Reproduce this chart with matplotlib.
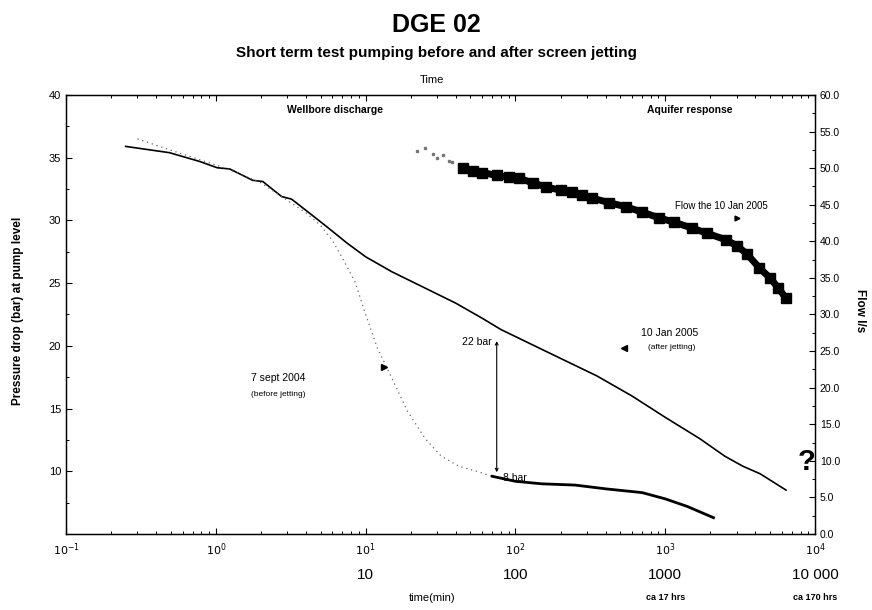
import matplotlib
matplotlib.use("Agg")
import matplotlib.pyplot as plt
from matplotlib.ticker import MultipleLocator, LogLocator, NullFormatter
import matplotlib.transforms as mtransforms

plt.rcParams['font.family'] = ['Liberation Sans', 'DejaVu Sans']

# ---- data ----
# after jetting (10 Jan 2005) : time [min], pressure drop [bar]
after_t = [0.25, 0.49, 0.78, 1.02, 1.24, 1.76, 2.06, 2.75, 3.2, 4.0, 5.5, 7.5, 10, 15, 25, 40, 60, 80, 110, 200, 350, 600, 1000, 1700, 2500, 3300, 4300, 6400]
after_p = [35.9, 35.4, 34.7, 34.2, 34.1, 33.2, 33.1, 31.9, 31.7, 30.8, 29.5, 28.2, 27.1, 25.9, 24.6, 23.4, 22.2, 21.3, 20.5, 19.0, 17.6, 16.0, 14.3, 12.6, 11.2, 10.4, 9.8, 8.5]

# before jetting (7 sept 2004) : sparse dotted part then solid tail
before_t = [0.3, 0.5, 0.8, 1.2, 2.0, 3.0, 4.0, 5.0, 6.0, 7.0, 8.5, 10, 12, 15, 19, 25, 32, 42, 55, 70]
before_p = [36.5, 35.6, 34.8, 34.1, 33.0, 31.6, 30.6, 29.6, 28.4, 27.0, 25.1, 22.5, 19.8, 17.4, 14.8, 12.6, 11.2, 10.4, 10.0, 9.6]
before_tail_t = [70, 100, 150, 250, 400, 700, 1000, 1400, 2100]
before_tail_p = [9.6, 9.2, 9.0, 8.9, 8.6, 8.3, 7.8, 7.2, 6.3]

# flow the 10 Jan 2005 : time [min], flow [l/s]
flow_t = [45, 52, 60, 75, 90, 106, 130, 161, 200, 240, 280, 326, 420, 550, 700, 912, 1150, 1514, 1900, 2550, 3000, 3500, 4233, 5000, 5700, 6400]
flow_q = [50.0, 49.6, 49.4, 49.0, 48.8, 48.6, 48.0, 47.4, 47.0, 46.7, 46.3, 45.9, 45.3, 44.7, 44.0, 43.2, 42.6, 41.8, 41.1, 40.2, 39.4, 38.3, 36.4, 35.0, 33.6, 32.2]
flow_light_t = [22, 25, 28, 30, 33, 36, 38, 42, 45]
flow_light_q = [52.3, 52.8, 52.0, 51.4, 51.8, 51.0, 50.8, 50.4, 50.1]

x_major = [0.1, 1, 10, 100, 1000, 10000]
x_major_labels = [r'$10^{-1}$', r'$10^{0}$', r'$10^{1}$', r'$10^{2}$', r'$10^{3}$', r'$10^{4}$']
x_plain = [10, 100, 1000, 10000]
x_plain_labels = ['10', '100', '1000', '10 000']
x_hrs = [1000, 10000]
x_hrs_labels = ['ca 17 hrs', 'ca 170 hrs']
left_ticks = [10, 15, 20, 25, 30, 35, 40]
right_ticks = [0, 5, 10, 15, 20, 25, 30, 35, 40, 45, 50, 55, 60]

# gap measurement
gap_t = 75
gap_top = 20.6
gap_bottom = 9.7

fig = plt.figure(figsize=(8.72, 6.10), dpi=100)
ax = fig.add_axes([0.0757, 0.1246, 0.859, 0.7197])
ax.set_xscale('log')
ax.set_xlim(0.1, 1e4)
ax.set_ylim(5, 40)

ax.plot(after_t, after_p, color='black', lw=1.2, zorder=3)
ax.plot(before_t, before_p, color='#666666', lw=0.9, ls=(0, (1, 3)), zorder=3)
ax.plot(before_tail_t, before_tail_p, color='black', lw=2.0, zorder=3)
ax.plot([530], [19.85], marker='<', color='black', ms=4, zorder=4)
ax.plot([13.3], [18.3], marker='>', color='black', ms=4, zorder=4)

ax.annotate('', xy=(gap_t, gap_bottom), xytext=(gap_t, gap_top),
            arrowprops=dict(arrowstyle='<->', lw=0.8, color='black', mutation_scale=5))
ax.text(gap_t * 0.93, gap_top - 0.3, '22 bar', ha='right', va='center', fontsize=7.5)
ax.text(gap_t * 1.1, gap_bottom - 0.2, '8 bar', ha='left', va='center', fontsize=7.5)

ax.set_xticks(x_major)
ax.set_xticklabels(x_major_labels, fontsize=8)
ax.xaxis.set_minor_locator(LogLocator(base=10, subs=range(2, 10), numticks=20))
ax.xaxis.set_minor_formatter(NullFormatter())
ax.set_yticks(left_ticks)
ax.set_yticklabels([str(v) for v in left_ticks], fontsize=8)
ax.yaxis.set_minor_locator(MultipleLocator(2.5))
ax.tick_params(which='both', direction='in', top=True)
ax.tick_params(which='major', length=4, width=0.8)
ax.tick_params(which='minor', length=2.5, width=0.7)
ax.tick_params(axis='x', pad=5)

ax2 = ax.twinx()
ax2.set_ylim(0, 60)
ax2.plot(flow_light_t, flow_light_q, ls='none', marker='s', ms=2, color='#777777')
ax2.plot(flow_t, flow_q, color='black', lw=5, solid_capstyle='butt', zorder=3)
ax2.plot(flow_t, flow_q, ls='none', marker='s', ms=7, color='black', zorder=3)
ax2.plot([3000], [43.2], marker='>', color='black', ms=3.5)
ax2.set_yticks(right_ticks)
ax2.set_yticklabels(['%.1f' % v for v in right_ticks], fontsize=7.5)
ax2.yaxis.set_minor_locator(MultipleLocator(2.5))
ax2.tick_params(which='both', direction='in')
ax2.tick_params(which='major', length=4, width=0.8)
ax2.tick_params(which='minor', length=2.5, width=0.7)

for sp in ax.spines.values():
    sp.set_linewidth(1.0)

ax.text(0.359, 0.966, 'Wellbore discharge', transform=ax.transAxes, ha='center', va='center', fontsize=7.5, fontweight='bold')
ax.text(0.833, 0.966, 'Aquifer response', transform=ax.transAxes, ha='center', va='center', fontsize=7.5, fontweight='bold')
ax.text(0.813, 0.747, 'Flow the 10 Jan 2005', transform=ax.transAxes, ha='left', va='center', fontsize=7)
ax.text(0.806, 0.458, '10 Jan 2005', transform=ax.transAxes, ha='center', va='center', fontsize=7.5)
ax.text(0.809, 0.424, '(after jetting)', transform=ax.transAxes, ha='center', va='center', fontsize=6)
ax.text(0.283, 0.355, '7 sept 2004', transform=ax.transAxes, ha='center', va='center', fontsize=7.5)
ax.text(0.283, 0.317, '(before jetting)', transform=ax.transAxes, ha='center', va='center', fontsize=6)
ax.text(0.988, 0.164, '?', transform=ax.transAxes, ha='center', va='center', fontsize=21, fontweight='bold')

trans = mtransforms.blended_transform_factory(ax.transData, fig.transFigure)
for xv, lab in zip(x_plain, x_plain_labels):
    ax.text(xv, 0.057, lab, transform=trans, ha='center', va='center', fontsize=11)
for xv, lab in zip(x_hrs, x_hrs_labels):
    ax.text(xv, 0.021, lab, transform=trans, ha='center', va='center', fontsize=6.5, fontweight='bold')
fig.text(0.495, 0.020, 'time(min)', ha='center', va='center', fontsize=8)

fig.text(0.5, 0.959, 'DGE 02', ha='center', va='center', fontsize=18, fontweight='bold')
fig.text(0.5, 0.913, 'Short term test pumping before and after screen jetting', ha='center', va='center', fontsize=11, fontweight='bold')
fig.text(0.495, 0.869, 'Time', ha='center', va='center', fontsize=8)
fig.text(0.021, 0.49, 'Pressure drop (bar) at pump level', rotation=90, ha='center', va='center', fontsize=8.5, fontweight='bold')
fig.text(0.986, 0.49, 'Flow l/s', rotation=-90, ha='center', va='center', fontsize=8.5, fontweight='bold')

fig.savefig('out.png', dpi=100)
